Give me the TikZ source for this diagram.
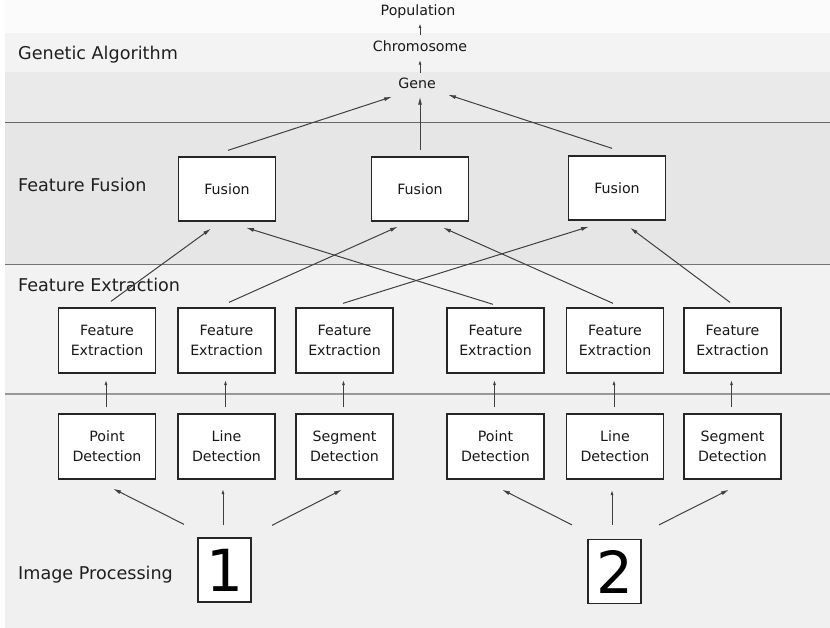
\documentclass[tikz,border=0pt]{standalone}
\usepackage{fontspec}
\setmainfont{DejaVu Sans}
\usetikzlibrary{arrows.meta}
\definecolor{bandA}{HTML}{FBFBFB}
\definecolor{bandB}{HTML}{F3F3F3}
\definecolor{bandC}{HTML}{EAEAEA}
\definecolor{bandFusion}{HTML}{E6E6E6}
\definecolor{bandExtract}{HTML}{F2F2F2}
\definecolor{bandImage}{HTML}{F0F0F0}
\begin{document}
\begin{tikzpicture}[x=1pt,y=-1pt,
  box/.style={draw=black!85, line width=1.3pt, fill=white, minimum width=97pt,
    minimum height=64pt, inner sep=0pt, align=center,
    font=\fontsize{14.2}{20}\selectfont, text=black!90},
  numbox/.style={draw=black!85, line width=1.3pt, fill=white, minimum width=53pt,
    minimum height=64pt, inner sep=0pt, font=\fontsize{58}{60}\selectfont},
  gaword/.style={font=\fontsize{14.2}{16}\selectfont, inner sep=7pt,
    text height=10pt, text depth=3pt, text=black!90},
  lbl/.style={anchor=base west, inner sep=0pt, font=\fontsize{17.6}{20}\selectfont,
    text=black!88},
  arr/.style={draw=black!75, line width=1pt, -{Latex[length=8pt,width=4pt]}},
  small arr/.style={arr, -{Latex[length=5.5pt,width=3pt]}},
  sep/.style={draw=black!60, line width=1pt}
]
\useasboundingbox (0,0) rectangle (830,628);
\fill[white] (0,0) rectangle (830,628);

% horizontal bands
\fill[bandA] (5,0) rectangle (830,33);
\fill[bandB] (5,33) rectangle (830,72);
\fill[bandC] (5,72) rectangle (830,123);
\fill[bandFusion] (5,123) rectangle (830,265);
\fill[bandExtract] (5,265) rectangle (830,394);
\fill[bandImage] (5,394) rectangle (830,628);
\draw[sep] (5,123) -- (830,123);
\draw[sep, draw=black!55] (5,265) -- (830,265);
\draw[sep, draw=black!40, line width=2.5pt] (5,394) -- (830,394);

% layer labels
\node[lbl] (lga) at (18,59.5) {Genetic Algorithm};
\node[lbl] (lff) at (18,191.5) {Feature Fusion};
\node[lbl] (lfe) at (18,291.5) {Feature Extraction};
\node[lbl] (lip) at (18,579.5) {Image Processing};

% genetic algorithm chain
\node[gaword] (pop) at (418,12) {Population};
\node[gaword] (chrom) at (420,48) {Chromosome};
\node[gaword] (gene) at (417,85) {Gene};

% fusion boxes
\node[box] (f1) at (227,189) {Fusion};
\node[box] (f2) at (420,189) {Fusion};
\node[box] (f3) at (617,188) {Fusion};

% feature extraction boxes
\foreach \i/\x in {1/107,2/226.5,3/344.5,4/495.5,5/615,6/732.5}{
  \node[box, minimum height=65pt] (fe\i) at (\x,340.5) {Feature\\Extraction};
}

% detection boxes
\node[box, minimum height=65pt] (d1) at (107,446.5) {Point\\Detection};
\node[box, minimum height=65pt] (d2) at (226.5,446.5) {Line\\Detection};
\node[box, minimum height=65pt] (d3) at (344.5,446.5) {Segment\\Detection};
\node[box, minimum height=65pt] (d4) at (495.5,446.5) {Point\\Detection};
\node[box, minimum height=65pt] (d5) at (615,446.5) {Line\\Detection};
\node[box, minimum height=65pt] (d6) at (732.5,446.5) {Segment\\Detection};

% input images
\node[numbox] (img1) at (224.5,570) {1};
\node[numbox] (img2) at (614.5,571.5) {2};

% gene -> chromosome -> population
\draw[small arr, -{Latex[length=5pt,width=3pt]}] ([yshift=-0.5pt]chrom.north) -- ([yshift=2.5pt]pop.south -| chrom.north);
\draw[small arr, -{Latex[length=5pt,width=3pt]}] ([yshift=-1.5pt]gene.north -| chrom.south) -- ([yshift=2pt]chrom.south);

% fusion -> gene
\draw[arr] ([xshift=1pt,yshift=6pt]f1.north) -- ([xshift=1pt,yshift=2pt]gene.south west);
\draw[arr] ([yshift=6pt]f2.north) -- ([yshift=2pt]gene.south -| f2.north);
\draw[arr] ([xshift=-5pt,yshift=7pt]f3.north) -- ([xshift=5pt,yshift=4pt]gene.south east);

% feature extraction -> fusion
\draw[arr] ([xshift=4pt,yshift=6pt]fe1.north) -- ([xshift=-16pt,yshift=-7pt]f1.south);
\draw[arr] ([xshift=2.5pt,yshift=5pt]fe2.north) -- ([xshift=-22pt,yshift=-5pt]f2.south);
\draw[arr] ([xshift=-1.5pt,yshift=4pt]fe3.north) -- ([xshift=-28pt,yshift=-6pt]f3.south);
\draw[arr] ([xshift=-2.5pt,yshift=3pt]fe4.north) -- ([xshift=19pt,yshift=-6pt]f1.south);
\draw[arr] ([xshift=-2pt,yshift=4pt]fe5.north) -- ([xshift=23pt,yshift=-6pt]f2.south);
\draw[arr] ([xshift=-2.5pt,yshift=5pt]fe6.north) -- ([xshift=13pt,yshift=-7pt]f3.south);

% detection -> feature extraction
\foreach \i in {1,...,6}{
  \draw[small arr] ([xshift=-1pt,yshift=6pt]d\i.north) -- ([xshift=-1pt,yshift=-6pt]fe\i.south);
}

% image -> detection
\draw[arr] ([xshift=-40.5pt,yshift=13pt]img1.north) -- ([xshift=6pt,yshift=-9pt]d1.south);
\draw[small arr] ([xshift=-1.5pt,yshift=12pt]img1.north) -- ([xshift=-3.5pt,yshift=-9pt]d2.south);
\draw[arr] ([xshift=47.5pt,yshift=12pt]img1.north) -- ([xshift=-2.5pt,yshift=-10pt]d3.south);
\draw[arr] ([xshift=-42.5pt,yshift=14pt]img2.north) -- ([xshift=6.5pt,yshift=-10pt]d4.south);
\draw[small arr] ([xshift=-2.5pt,yshift=14pt]img2.north) -- ([xshift=-3pt,yshift=-10pt]d5.south);
\draw[arr] ([xshift=44.5pt,yshift=14pt]img2.north) -- ([xshift=-3.5pt,yshift=-10pt]d6.south);
\end{tikzpicture}
\end{document}
